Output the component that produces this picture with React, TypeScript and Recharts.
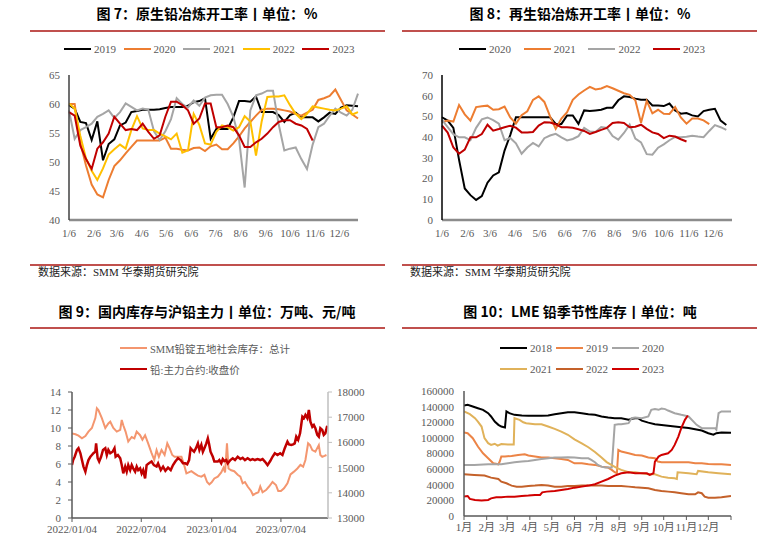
import React from 'react';
import { LineChart, Line, XAxis, YAxis } from 'recharts';

const SERIF = '"Liberation Serif", "Times New Roman", "Noto Sans CJK SC", serif';
const CJK = '"Noto Sans CJK SC", "Noto Sans", sans-serif';
const TXT = '#595959';
const RULE = '#C0504D';

// ---------- Fig 7: 原生铅冶炼开工率 (weekly) ----------
const MD_DAYS = [0, 31, 59, 90, 120, 151, 181, 212, 243, 273, 304, 334];
const MD_LABELS = ['1/6', '2/6', '3/6', '4/6', '5/6', '6/6', '7/6', '8/6', '9/6', '10/6', '11/6', '12/6'];

const p2019 = [59.8,59.2,56.9,56.7,53.8,57.0,50.3,53.1,53.9,56.3,56.8,58.6,58.8,59.0,59.0,59.0,59.1,59.3,59.5,59.5,59.5,59.7,60.3,60.5,61.0,54.0,55.7,55.7,55.7,57.7,60.5,60.5,60.4,61.3,58.6,58.6,58.6,58.1,56.9,58.1,58.5,57.7,57.7,57.7,57.0,57.7,58.5,58.3,59.4,59.8,59.7,59.6];
const p2020 = [60.0,60.0,53.3,49.4,46.1,44.4,43.9,46.9,49.3,50.3,51.5,52.6,53.7,53.7,53.7,53.7,53.7,54.2,52.3,52.3,52.1,52.0,52.4,52.5,51.9,52.7,53.0,52.2,52.2,53.2,54.4,55.8,56.9,58.0,59.0,59.2,59.2,59.1,58.9,58.7,58.3,58.0,58.5,59.0,60.7,61.0,61.4,62.5,60.7,58.9,58.2,57.5];
const p2021 = [58.9,54.0,55.5,56.0,56.6,57.8,58.3,58.9,57.6,58.6,60.1,59.5,58.9,59.2,59.0,55.3,53.8,55.3,57.4,61.0,60.0,59.4,60.6,59.7,61.1,61.5,61.6,61.6,60.0,57.8,54.0,45.6,58.9,61.5,61.8,62.3,62.3,56.5,52.0,52.3,52.5,50.5,48.8,53.0,56.0,56.6,58.0,59.2,58.5,58.0,59.0,61.8];
const p2022 = [60.1,59.2,54.5,50.6,48.5,46.9,48.9,51.3,52.2,53.0,52.3,55.5,57.9,55.8,55.5,55.5,54.9,54.4,53.9,54.9,51.6,52.0,58.3,56.4,53.2,53.0,55.2,56.3,56.0,55.4,56.0,57.9,57.0,51.1,57.0,61.2,61.3,61.3,61.5,59.8,58.3,57.4,58.3,59.6,59.4,59.2,59.0,58.9,59.2,59.6,58.2,58.6];
const p2023 = [58.6,58.0,52.8,50.5,48.8,52.3,53.4,54.9,57.8,56.6,55.5,55.7,55.5,56.6,55.2,54.0,54.6,57.8,60.4,60.4,59.8,58.9,56.6,57.5,60.1,60.1,56.0,56.0,56.3,56.0,54.6,52.6,52.6,53.4,54.0,54.9,56.0,56.9,57.2,57.2,56.6,56.3,55.7,53.7];

// ---------- Fig 8: 再生铅冶炼开工率 (weekly) ----------
const r2020 = [49.6,48.0,44.5,29.0,15.2,12.0,9.7,11.5,18.0,21.5,23.0,33.5,41.0,49.6,49.6,49.6,49.6,49.6,49.6,49.6,46.4,46.4,50.5,50.5,46.4,52.9,52.6,52.9,53.2,54.2,54.2,57.8,59.7,59.4,58.6,58.1,58.1,55.3,55.3,55.0,56.2,52.9,51.3,51.6,50.5,50.0,52.6,53.2,53.7,48.0,45.9];
const r2021 = [47.2,48.0,47.5,55.5,51.0,48.0,54.5,54.9,55.2,53.2,53.5,54.8,49.5,46.5,50.6,52.5,58.0,59.7,57.0,50.0,44.0,49.0,52.0,58.0,60.6,62.5,64.3,63.0,63.5,64.7,63.6,62.4,61.2,60.4,57.8,47.0,57.5,51.5,53.2,51.3,51.2,54.5,49.5,46.5,49.0,49.0,48.1,46.3];
const r2022 = [48.3,44.8,41.4,39.9,39.9,38.5,44.5,48.6,49.5,48.2,46.5,38.5,39.6,37.0,32.0,35.0,37.2,35.5,39.5,40.8,41.6,39.9,38.4,39.1,40.5,44.5,42.7,42.5,44.9,44.5,40.5,38.8,42.0,46.0,39.3,37.5,31.8,31.5,34.9,36.5,38.5,40.1,39.9,40.2,40.7,40.3,40.0,43.0,45.8,44.8,43.5];
const r2023 = [45.6,42.2,35.0,32.0,34.0,39.9,39.9,41.5,46.0,43.1,43.9,44.8,45.5,44.6,42.3,42.3,42.5,45.6,47.2,47.1,46.2,44.8,44.8,44.5,43.8,43.0,41.6,42.5,43.5,44.5,46.8,47.2,46.8,44.8,45.0,46.0,44.0,42.3,41.5,39.5,40.7,40.3,39.0,37.9];

// ---------- Fig 9: 国内库存与沪铅主力 ----------
const DAY_LABELS_9 = ['2022/01/04', '2022/07/04', '2023/01/04', '2023/07/04'];
const DAY_TICKS_9 = [0, 181, 365, 546];
const invDays = [0,9,17,26,35,43,52,61,65,69,78,87,95,100,108,117,126,130,134,140,147,156,163,169,178,184,191,199,208,215,221,227,234,242,249,255,262,268,277,286,293,299,305,312,320,329,338,346,353,359,365,372,381,390,396,400,405,409,416,424,433,440,446,452,459,468,473,481,487,492,498,507,515,524,533,539,546,554,563,571,580,589,597,604,610,617,622,628,636,645,649,654,660,665];
const invVals = [9.4,9.3,9.15,8.85,9.1,9.6,10.0,11.1,12.2,12.0,11.1,10.0,10.5,10.7,10.0,9.6,9.8,10.9,10.3,9.6,8.5,9.0,8.85,9.6,9.2,8.7,9.2,8.3,7.2,6.45,7.55,6.8,7.55,7.0,8.3,7.75,7.0,6.8,6.8,6.8,5.9,4.96,5.07,5.2,4.96,4.7,4.6,4.8,4.0,3.74,3.96,4.4,4.6,5.07,5.6,5.07,8.3,5.5,5.3,5.2,4.8,4.6,3.85,4.0,3.5,3.0,2.55,2.75,2.85,3.5,2.85,3.1,3.5,4.0,3.67,3.0,3.0,3.3,3.85,4.85,5.15,5.5,5.9,5.7,6.45,8.3,8.1,7.55,7.37,8.1,7.0,6.8,6.9,7.0];
const futDays = [0,3,7,13,17,22,26,30,35,39,43,48,52,56,61,63,67,71,76,81,87,91,95,100,106,111,114,120,126,130,134,139,143,147,152,156,160,165,169,173,178,182,186,191,195,201,208,214,221,225,232,238,244,251,258,264,270,277,284,290,296,301,306,310,314,319,324,329,333,338,342,346,351,355,358,362,368,372,377,381,385,390,394,398,403,407,414,420,426,433,440,446,452,459,466,472,478,485,492,498,504,511,518,524,530,537,544,550,556,563,567,573,578,582,586,591,596,599,602,606,610,615,619,623,628,632,636,641,645,649,654,658,662,667];
const futVals = [15100,15300,15430,15700,15770,15570,15300,15040,14840,15100,15300,15430,15500,15570,15630,15960,15370,15240,15430,15700,15770,15500,15700,15570,15630,15770,15430,15500,15370,15100,14770,15040,14840,15100,14900,15100,14970,14840,15040,14900,14970,14770,14900,14570,15100,15170,15240,15100,15040,15170,14900,15040,14870,15000,14900,15100,15240,15370,15300,15170,15170,15130,15300,15770,15700,15630,15770,15960,15700,15900,15630,15770,15960,16160,15960,15630,15430,15240,15240,15240,15300,15170,15340,15260,15300,15170,15300,15370,15300,15430,15340,15390,15300,15370,15300,15340,15300,15340,15300,15340,15240,15100,15260,15430,15570,15500,15570,15500,15770,16030,15920,15900,15920,15960,16230,16100,16360,16690,17020,16960,17090,16960,17290,16820,16620,16690,16560,16300,16230,16560,16490,16300,16360,16660];

// ---------- Fig 10: LME 铅季节性库存 ----------
const M_DAYS = [0, 31, 59, 90, 120, 151, 181, 212, 243, 273, 304, 334, 365];
const M_LABELS = ['1月', '2月', '3月', '4月', '5月', '6月', '7月', '8月', '9月', '10月', '11月', '12月', ''];
const lme2018Days = [0,5,12,19,26,33,37,42,47,51,56,58,62,69,79,88,97,106,115,124,133,142,151,161,170,179,188,197,206,215,225,229,234,238,243,252,261,270,279,288,297,307,316,325,334,341,345,352,365];
const lme2018 = [141500,142300,140200,138000,135900,131600,127400,120900,116700,114500,113200,133800,131600,129500,128600,128200,128200,128200,128600,130300,131600,132900,132900,131600,130300,129500,127400,126000,125200,125200,123100,124400,125200,125200,122000,119500,117500,116500,115500,114500,113500,112500,111000,109500,106000,104000,106000,107000,106500];
const lme2019Days = [0,5,12,19,26,33,40,47,49,51,56,65,74,83,88,97,106,115,124,133,142,151,161,170,179,188,197,202,206,209,211,215,225,234,243,252,261,265,270,279,288,297,307,316,325,334,343,352,365];
const lme2019 = [106800,106000,99600,88900,80300,73900,67500,66200,70000,76100,76100,76900,78200,79100,77400,76100,74800,74800,73900,73100,71800,67500,67500,66200,65400,63200,62000,59000,56000,54700,84600,82500,80300,78200,77400,74800,73900,69700,68800,68800,68800,68800,68800,67500,67500,66700,66200,66200,65400];
const lme2020Days = [0,14,33,51,60,69,79,88,97,106,115,124,133,142,151,161,170,174,179,183,188,193,202,206,211,215,225,229,234,243,252,256,261,266,270,275,279,288,297,307,318,325,334,343,345,348,352,365];
const lme2020 = [65400,65400,66200,66200,67500,68800,69700,70500,71800,73100,73900,74800,74800,75200,74800,73900,73900,71800,68800,65400,63200,62000,62000,116700,117500,117500,118800,125200,126000,125200,127400,135900,136800,135900,137600,136800,135000,131600,129500,127400,116700,112400,112400,112400,110300,131600,133800,133800];
const lme2021Days = [0,8,15,19,24,28,33,37,42,46,51,60,68,69,76,81,85,97,106,115,124,133,142,151,161,170,179,188,195,202,208,215,225,234,243,252,261,270,279,288,291,292,307,318,320,334,348,365];
const lme2021 = [133800,130300,125200,120900,114500,99600,93200,91000,92500,90000,92000,91500,91500,125200,123100,120000,118800,117500,117500,114500,111500,108100,104000,98000,93000,88000,82000,75000,69000,65000,62000,59000,56000,56000,54700,53400,53400,50400,49100,48300,47400,56000,54700,53400,57700,56000,54700,53400];
const lme2022Days = [0,14,28,37,47,51,58,65,72,79,88,97,106,115,124,133,142,151,161,170,179,188,197,206,215,225,234,243,252,261,270,279,288,297,307,316,320,325,329,334,343,352,365];
const lme2022 = [53400,52600,51700,49100,47400,44000,41900,38900,37600,37600,38500,38900,39700,38900,37600,37600,38500,38500,38900,38900,38900,38900,38500,38500,38500,37600,36800,36300,35500,33300,32100,31200,30300,29100,27800,27800,30300,29100,24800,23500,23500,23900,25600];
const lme2023Days = [0,5,8,15,24,33,37,44,51,60,69,79,88,97,104,107,113,124,133,142,151,161,170,179,188,197,206,215,225,234,243,250,254,259,261,266,270,279,284,288,293,297,302,306];
const lme2023 = [24800,25600,21800,20500,19700,20500,22600,23900,23900,24800,24800,25600,26100,26900,26900,30300,31200,32100,33300,34600,36300,37600,38900,40600,44000,47400,51700,54700,56000,54700,54700,54700,52600,54700,69700,76100,78200,80300,84600,91000,101700,112400,123100,128600];

// ---------- helpers ----------
function weekRows(series: Record<string, number[]>, n: number) {
  const rows: any[] = [];
  for (let i = 0; i < n; i++) {
    const r: any = { d: i * 7 };
    for (const k of Object.keys(series)) r[k] = series[k][i];
    rows.push(r);
  }
  return rows;
}
function pairs(days: number[], vals: number[]) {
  return days.map((d, i) => ({ d, v: vals[i] }));
}

const rows7 = weekRows({ y2019: p2019, y2020: p2020, y2021: p2021, y2022: p2022, y2023: p2023 }, 52);
const rows8 = weekRows({ y2020: r2020, y2021: r2021, y2022: r2022, y2023: r2023 }, 51);

const tickStyle = { fontSize: 11, fill: TXT, fontFamily: SERIF };

function Title({ center, top, text }: { center: number; top: number; text: string }) {
  return (
    <div style={{ position: 'absolute', left: center - 200, width: 400, top, textAlign: 'center', fontFamily: CJK, fontWeight: 700, fontSize: 14, lineHeight: '18px', color: '#000', whiteSpace: 'nowrap' }}>
      {text}
    </div>
  );
}
function Rule({ left, top, width }: { left: number; top: number; width: number }) {
  return <div style={{ position: 'absolute', left, top, width, height: 2, background: RULE }} />;
}
function Source({ left, top }: { left: number; top: number }) {
  return (
    <div style={{ position: 'absolute', left, top, fontFamily: SERIF, fontSize: 11, lineHeight: '15px', color: '#222', whiteSpace: 'nowrap' }}>
      数据来源：SMM 华泰期货研究院
    </div>
  );
}
function LegendRow({ items, left, y, step, fontSize = 11 }: { items: { name: string; color: string }[]; left: number; y: number; step: number; fontSize?: number }) {
  return (
    <>
      {items.map((it, i) => (
        <div key={it.name} style={{ position: 'absolute', left: left + i * step, top: y - 8, height: 16, display: 'flex', alignItems: 'center', whiteSpace: 'nowrap' }}>
          <span style={{ display: 'inline-block', width: 27, height: 2.5, background: it.color }} />
          <span style={{ marginLeft: 3, fontFamily: SERIF, fontSize, color: TXT }}>{it.name}</span>
        </div>
      ))}
    </>
  );
}

const C7 = [
  { key: 'y2019', name: '2019', color: '#000000' },
  { key: 'y2020', name: '2020', color: '#ED7D31' },
  { key: 'y2021', name: '2021', color: '#A5A5A5' },
  { key: 'y2022', name: '2022', color: '#FFC000' },
  { key: 'y2023', name: '2023', color: '#C00000' },
];
const C8 = [
  { key: 'y2020', name: '2020', color: '#000000' },
  { key: 'y2021', name: '2021', color: '#ED7D31' },
  { key: 'y2022', name: '2022', color: '#A5A5A5' },
  { key: 'y2023', name: '2023', color: '#C00000' },
];
const C10 = [
  { name: '2018', color: '#000000', days: lme2018Days, vals: lme2018 },
  { name: '2019', color: '#EC8446', days: lme2019Days, vals: lme2019 },
  { name: '2020', color: '#A5A5A5', days: lme2020Days, vals: lme2020 },
  { name: '2021', color: '#E0B25A', days: lme2021Days, vals: lme2021 },
  { name: '2022', color: '#C4612A', days: lme2022Days, vals: lme2022 },
  { name: '2023', color: '#D00000', days: lme2023Days, vals: lme2023 },
];
const INV_COLOR = '#F4966F';
const FUT_COLOR = '#C00000';

export default function App() {
  return (
    <div style={{ position: 'absolute', left: 0, top: 0, width: 769, height: 540, overflow: 'hidden', background: '#fff' }}>
      {/* Panel 7 */}
      <Title center={207} top={4} text="图 7：原生铅冶炼开工率丨单位：%" />
      <Rule left={30} top={30} width={355} />
      <LegendRow items={C7} left={64} y={49} step={59.6} />
      <div style={{ position: 'absolute', left: 20, top: 60 }}>
        <LineChart width={350} height={190} data={rows7} margin={{ top: 15, right: 12, bottom: 0, left: 0 }}>
          <XAxis dataKey="d" type="number" domain={[0, 357]} ticks={MD_DAYS} interval={0}
            tickFormatter={(v: number) => MD_LABELS[MD_DAYS.indexOf(v)] ?? ''}
            axisLine={{ stroke: '#8C8C8C', strokeWidth: 2.5 }} tickLine={false} tick={tickStyle} height={30} tickMargin={3} />
          <YAxis domain={[40, 65]} ticks={[40, 45, 50, 55, 60, 65]} interval={0} width={49}
            axisLine={{ stroke: '#404040', strokeWidth: 1.5 }} tickLine={false} tick={tickStyle} tickMargin={3} />
          {C7.map((c) => (
            <Line key={c.key} dataKey={c.key} stroke={c.color} strokeWidth={2} dot={false} type="linear" isAnimationActive={false} />
          ))}
        </LineChart>
      </div>
      <Rule left={30} top={264} width={355} />
      <Source left={38} top={265} />

      {/* Panel 8 */}
      <Title center={580} top={4} text="图 8：再生铅冶炼开工率丨单位：%" />
      <Rule left={402} top={30} width={355} />
      <LegendRow items={C8} left={459} y={49} step={64.7} />
      <div style={{ position: 'absolute', left: 392, top: 60 }}>
        <LineChart width={350} height={190} data={rows8} margin={{ top: 15, right: 10, bottom: 0, left: 0 }}>
          <XAxis dataKey="d" type="number" domain={[0, 357]} ticks={MD_DAYS} interval={0}
            tickFormatter={(v: number) => MD_LABELS[MD_DAYS.indexOf(v)] ?? ''}
            axisLine={{ stroke: '#8C8C8C', strokeWidth: 2.5 }} tickLine={false} tick={tickStyle} height={30} tickMargin={3} />
          <YAxis domain={[0, 70]} ticks={[0, 10, 20, 30, 40, 50, 60, 70]} interval={0} width={50}
            axisLine={{ stroke: '#000', strokeWidth: 1.5 }} tickLine={false} tick={tickStyle} tickMargin={3} />
          {C8.map((c) => (
            <Line key={c.key} dataKey={c.key} stroke={c.color} strokeWidth={2} dot={false} type="linear" isAnimationActive={false} />
          ))}
        </LineChart>
      </div>
      <Rule left={402} top={264} width={355} />
      <Source left={410} top={265} />

      {/* Panel 9 */}
      <Title center={207} top={302} text="图 9：国内库存与沪铅主力丨单位：万吨、元/吨" />
      <Rule left={30} top={327} width={355} />
      <LegendRow items={[{ name: 'SMM铅锭五地社会库存：总计', color: INV_COLOR }]} left={120} y={348} step={0} fontSize={10.5} />
      <LegendRow items={[{ name: '铅:主力合约:收盘价', color: FUT_COLOR }]} left={120} y={369} step={0} fontSize={10.5} />
      <div style={{ position: 'absolute', left: 20, top: 380 }}>
        <LineChart width={350} height={160} margin={{ top: 12, right: 0, bottom: 0, left: 0 }}>
          <XAxis dataKey="d" type="number" domain={[0, 669]} ticks={DAY_TICKS_9} interval={0} allowDataOverflow
            tickFormatter={(v: number) => DAY_LABELS_9[DAY_TICKS_9.indexOf(v)] ?? ''}
            axisLine={{ stroke: '#595959', strokeWidth: 1.5 }} tickLine={{ stroke: '#595959' }} tickSize={4} tickMargin={3}
            tick={tickStyle} height={22} />
          <YAxis yAxisId="left" domain={[0, 14]} ticks={[0, 2, 4, 6, 8, 10, 12, 14]} interval={0} width={52}
            axisLine={{ stroke: '#595959', strokeWidth: 1.5 }} tickLine={{ stroke: '#595959' }} tickSize={4} tickMargin={7} tick={tickStyle} />
          <YAxis yAxisId="right" orientation="right" domain={[13000, 18000]} ticks={[13000, 14000, 15000, 16000, 17000, 18000]} interval={0} width={42}
            axisLine={{ stroke: '#BFBFBF', strokeWidth: 1.5 }} tickLine={{ stroke: '#BFBFBF' }} tickSize={4} tickMargin={5} tick={tickStyle} />
          <Line yAxisId="left" data={pairs(invDays, invVals)} dataKey="v" name="inv" stroke={INV_COLOR} strokeWidth={2} dot={false} type="linear" isAnimationActive={false} />
          <Line yAxisId="right" data={pairs(futDays, futVals)} dataKey="v" name="fut" stroke={FUT_COLOR} strokeWidth={2.5} dot={false} type="linear" isAnimationActive={false} />
        </LineChart>
      </div>

      {/* Panel 10 */}
      <Title center={580} top={302} text="图 10：LME 铅季节性库存丨单位：吨" />
      <Rule left={402} top={327} width={355} />
      <LegendRow items={C10.slice(0, 3)} left={500} y={348} step={56} />
      <LegendRow items={C10.slice(3)} left={500} y={369} step={56} />
      <div style={{ position: 'absolute', left: 400, top: 380 }}>
        <LineChart width={345} height={160} margin={{ top: 11, right: 14, bottom: 0, left: 0 }}>
          <XAxis dataKey="d" type="number" domain={[0, 365]} ticks={M_DAYS} interval={0} allowDataOverflow
            tickFormatter={(v: number) => M_LABELS[M_DAYS.indexOf(v)] ?? ''}
            axisLine={{ stroke: '#595959', strokeWidth: 1.5 }} tickLine={{ stroke: '#595959' }} tickSize={4} tickMargin={3}
            tick={{ ...tickStyle, fontFamily: SERIF }} height={24} />
          <YAxis domain={[0, 160000]} ticks={[0, 20000, 40000, 60000, 80000, 100000, 120000, 140000, 160000]} interval={0} width={64}
            axisLine={{ stroke: '#595959', strokeWidth: 1.5 }} tickLine={false} tickMargin={4} tick={tickStyle} />
          {C10.map((c) => (
            <Line key={c.name} data={pairs(c.days, c.vals)} dataKey="v" name={c.name} stroke={c.color} strokeWidth={2} dot={false} type="linear" isAnimationActive={false} />
          ))}
        </LineChart>
      </div>
    </div>
  );
}
